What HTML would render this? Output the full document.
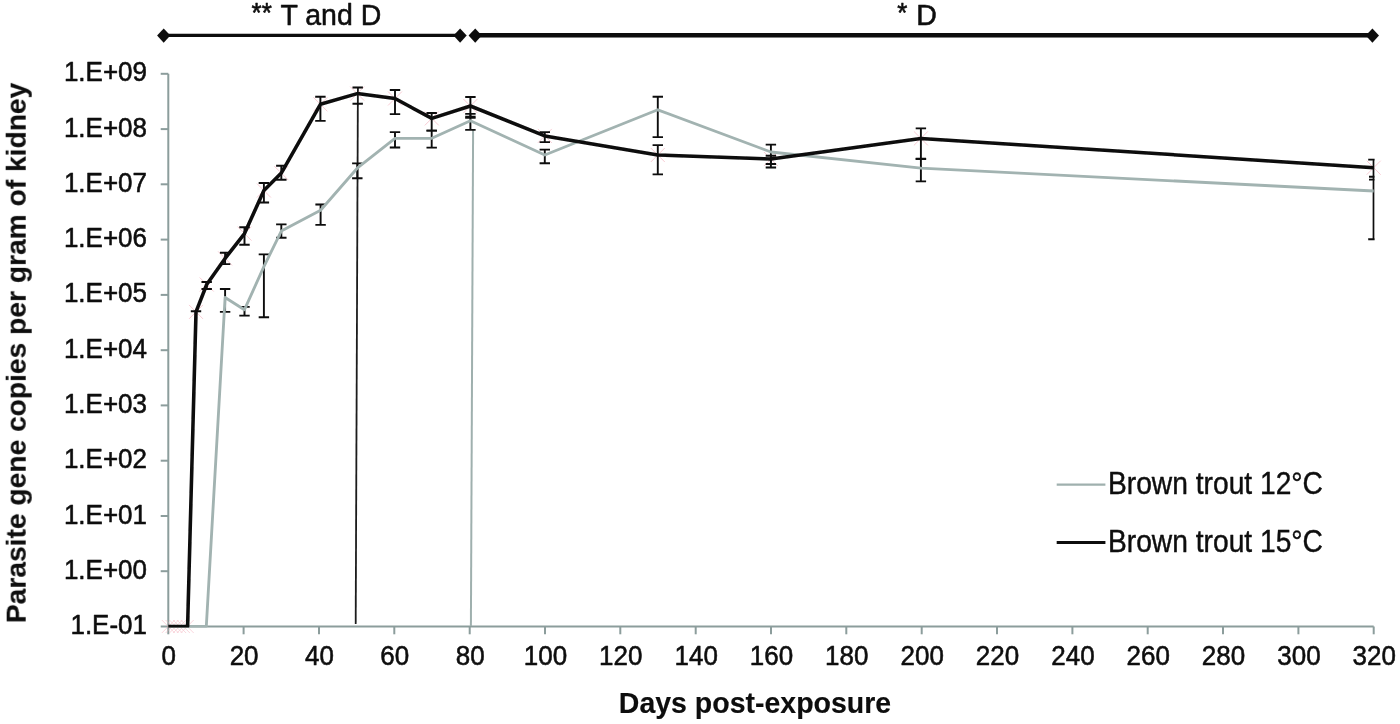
<!DOCTYPE html>
<html lang="en">
<head>
<meta charset="utf-8">
<title>Parasite gene copies per gram of kidney</title>
<style>
html,body{margin:0;padding:0;background:#fff;}
body{width:1400px;height:724px;overflow:hidden;font-family:"Liberation Sans",sans-serif;}
svg{display:block;}
</style>
</head>
<body>
<svg width="1400" height="724" viewBox="0 0 1400 724" role="img" aria-label="Parasite gene copies per gram of kidney versus days post-exposure">
<defs><filter id="bl" x="0" y="0" width="1400" height="724" filterUnits="userSpaceOnUse"><feGaussianBlur stdDeviation="0.55"/></filter><filter id="b2" x="0" y="0" width="1400" height="724" filterUnits="userSpaceOnUse"><feGaussianBlur stdDeviation="0.6"/></filter><clipPath id="cp"><rect x="150" y="60" width="1224.6" height="567.4"/></clipPath></defs>
<rect width="1400" height="724" fill="#ffffff"/>
<g filter="url(#bl)">
<g stroke="#8c9d9c" stroke-width="2.0" fill="none">
<path d="M168.3 73.8 V626.5 H1373.7"/>
<path d="M160.7 73.8 H168.3"/>
<path d="M160.7 129.1 H168.3"/>
<path d="M160.7 184.3 H168.3"/>
<path d="M160.7 239.6 H168.3"/>
<path d="M160.7 294.9 H168.3"/>
<path d="M160.7 350.2 H168.3"/>
<path d="M160.7 405.4 H168.3"/>
<path d="M160.7 460.7 H168.3"/>
<path d="M160.7 516.0 H168.3"/>
<path d="M160.7 571.2 H168.3"/>
<path d="M160.7 626.5 H168.3"/>
<path d="M168.3 626.5 V634.3"/>
<path d="M243.6 626.5 V634.3"/>
<path d="M319.0 626.5 V634.3"/>
<path d="M394.3 626.5 V634.3"/>
<path d="M469.7 626.5 V634.3"/>
<path d="M545.0 626.5 V634.3"/>
<path d="M620.3 626.5 V634.3"/>
<path d="M695.7 626.5 V634.3"/>
<path d="M771.0 626.5 V634.3"/>
<path d="M846.3 626.5 V634.3"/>
<path d="M921.7 626.5 V634.3"/>
<path d="M997.0 626.5 V634.3"/>
<path d="M1072.4 626.5 V634.3"/>
<path d="M1147.7 626.5 V634.3"/>
<path d="M1223.0 626.5 V634.3"/>
<path d="M1298.4 626.5 V634.3"/>
<path d="M1373.7 626.5 V634.3"/>
</g>
<path d="M357.9 88 L355.7 624" stroke="#1c1c1c" stroke-width="1.8" fill="none"/>
<path d="M473.1 129 L470.9 626" stroke="#9fb0ae" stroke-width="2" fill="none"/>
<g stroke="#f3a9b6" stroke-width="1.0" opacity="0.6">
<path d="M189.0 304.9 l14 14 M203.0 304.9 l-14 14"/>
<path d="M199.7 277.5 l14 14 M213.7 277.5 l-14 14"/>
<path d="M218.1 251.4 l14 14 M232.1 251.4 l-14 14"/>
<path d="M237.5 226.6 l14 14 M251.5 226.6 l-14 14"/>
<path d="M256.9 183.5 l14 14 M270.9 183.5 l-14 14"/>
<path d="M274.3 166.1 l14 14 M288.3 166.1 l-14 14"/>
<path d="M313.4 97.3 l14 14 M327.4 97.3 l-14 14"/>
<path d="M350.2 86.6 l14 14 M364.2 86.6 l-14 14"/>
<path d="M388.0 91.5 l14 14 M402.0 91.5 l-14 14"/>
<path d="M424.8 111.4 l14 14 M438.8 111.4 l-14 14"/>
<path d="M463.4 99.0 l14 14 M477.4 99.0 l-14 14"/>
<path d="M537.8 128.9 l14 14 M551.8 128.9 l-14 14"/>
<path d="M650.8 148.0 l14 14 M664.8 148.0 l-14 14"/>
<path d="M763.9 152.0 l14 14 M777.9 152.0 l-14 14"/>
<path d="M913.9 131.4 l14 14 M927.9 131.4 l-14 14"/>
<path d="M1366.7 160.7 l14 14 M1380.7 160.7 l-14 14"/>
</g>
<g stroke="#f3a9b6" stroke-width="0.8" opacity="0.6">
<path d="M161.8 620.0 l13 13 M174.8 620.0 l-13 13"/>
<path d="M165.6 620.0 l13 13 M178.6 620.0 l-13 13"/>
<path d="M169.4 620.0 l13 13 M182.4 620.0 l-13 13"/>
<path d="M173.1 620.0 l13 13 M186.1 620.0 l-13 13"/>
<path d="M176.9 620.0 l13 13 M189.9 620.0 l-13 13"/>
<path d="M180.7 620.0 l13 13 M193.7 620.0 l-13 13"/>
</g>
<g clip-path="url(#cp)">
<g stroke="#0b0b0b" stroke-width="1.9" fill="none">
<path d="M196.0 311.1 V311.4 M190.8 311.1 h10.4 M190.8 311.4 h10.4"/>
<path d="M206.7 282.0 V289.0 M201.5 282.0 h10.4 M201.5 289.0 h10.4"/>
<path d="M225.1 252.7 V264.1 M219.9 252.7 h10.4 M219.9 264.1 h10.4"/>
<path d="M244.5 227.3 V244.8 M239.3 227.3 h10.4 M239.3 244.8 h10.4"/>
<path d="M263.9 183.0 V202.5 M258.7 183.0 h10.4 M258.7 202.5 h10.4"/>
<path d="M281.3 165.7 V179.8 M276.1 165.7 h10.4 M276.1 179.8 h10.4"/>
<path d="M320.4 96.8 V120.9 M315.2 96.8 h10.4 M315.2 120.9 h10.4"/>
<path d="M395.0 90.0 V114.1 M389.8 90.0 h10.4 M389.8 114.1 h10.4"/>
<path d="M431.7 113.0 V130.6 M426.5 113.0 h10.4 M426.5 130.6 h10.4"/>
<path d="M470.4 97.0 V117.9 M465.2 97.0 h10.4 M465.2 117.9 h10.4"/>
<path d="M544.8 132.1 V142.1 M539.6 132.1 h10.4 M539.6 142.1 h10.4"/>
<path d="M657.8 145.1 V174.4 M652.6 145.1 h10.4 M652.6 174.4 h10.4"/>
<path d="M770.9 155.8 V167.5 M765.7 155.8 h10.4 M765.7 167.5 h10.4"/>
<path d="M920.9 128.4 V158.8 M915.7 128.4 h10.4 M915.7 158.8 h10.4"/>
<path d="M225.1 289.0 V311.9 M219.9 289.0 h10.4 M219.9 311.9 h10.4"/>
<path d="M244.5 306.9 V315.6 M239.3 306.9 h10.4 M239.3 315.6 h10.4"/>
<path d="M263.9 254.4 V317.2 M258.7 254.4 h10.4 M258.7 317.2 h10.4"/>
<path d="M281.3 224.4 V237.8 M276.1 224.4 h10.4 M276.1 237.8 h10.4"/>
<path d="M320.6 204.5 V224.9 M315.4 204.5 h10.4 M315.4 224.9 h10.4"/>
<path d="M357.3 163.4 V178.2 M352.1 163.4 h10.4 M352.1 178.2 h10.4"/>
<path d="M395.0 132.1 V147.5 M389.8 132.1 h10.4 M389.8 147.5 h10.4"/>
<path d="M431.7 130.6 V147.6 M426.5 130.6 h10.4 M426.5 147.6 h10.4"/>
<path d="M470.4 113.9 V129.9 M465.2 113.9 h10.4 M465.2 129.9 h10.4"/>
<path d="M544.8 149.6 V163.2 M539.6 149.6 h10.4 M539.6 163.2 h10.4"/>
<path d="M657.8 96.8 V137.1 M652.6 96.8 h10.4 M652.6 137.1 h10.4"/>
<path d="M770.9 144.6 V164.0 M765.7 144.6 h10.4 M765.7 164.0 h10.4"/>
<path d="M920.9 159.0 V181.4 M915.7 159.0 h10.4 M915.7 181.4 h10.4"/>
<path d="M352.5 87.5 h10.4 M352.5 103.7 h10.4 M465.2 116.6 h10.4"/>
<path d="M1373.6 159.6 V239.2 M1368.2 159.6 h11 M1368.2 239.2 h11 M1369 176.7 h10 M1369 179.6 h10"/>
</g>
<path d="M168.3 626.5 L206.3 626.5 L225.1 297.5 L244.4 309.8 L263.9 266.6 L281.3 231.1 L320.6 210.2 L357.2 168.2 L395.0 138.3 L431.8 138.3 L470.4 120.8 L544.8 155.0 L657.8 109.8 L770.9 152.0 L920.9 168.2 L1373.7 191.0" stroke="#a2b3b1" stroke-width="2.85" fill="none" stroke-linejoin="round" filter="url(#b2)"/>
<path d="M168.3 626.5 L187.6 626.5 L196.0 311.9 L206.7 284.5 L225.1 258.4 L244.5 233.6 L263.9 190.5 L281.3 173.1 L320.4 104.3 L357.2 93.6 L395.0 98.5 L431.8 118.4 L470.4 106.0 L544.8 135.9 L657.8 155.0 L770.9 159.0 L920.9 138.4 L1373.7 167.7" stroke="#0b0b0b" stroke-width="3.55" fill="none" stroke-linejoin="round"/>
</g>
<path d="M163.7 35.4 H460.1" stroke="#0b0b0b" stroke-width="3.3" fill="none"/>
<path d="M475.2 35.3 H1372.4" stroke="#0b0b0b" stroke-width="4.4" fill="none"/>
<path d="M157.1 35.6 L163.7 28.5 L170.3 35.6 L163.7 42.7 Z" fill="#0b0b0b"/>
<path d="M453.5 35.6 L460.1 28.5 L466.7 35.6 L460.1 42.7 Z" fill="#0b0b0b"/>
<path d="M468.6 35.6 L475.2 28.5 L481.8 35.6 L475.2 42.7 Z" fill="#0b0b0b"/>
<path d="M1365.8 35.6 L1372.4 28.5 L1379.0 35.6 L1372.4 42.7 Z" fill="#0b0b0b"/>
<path d="M1056.7 484.6 H1105.4" stroke="#9fb0ae" stroke-width="2.1" fill="none"/>
<path d="M1056.7 542.5 H1105.4" stroke="#0b0b0b" stroke-width="3.2" fill="none"/>
<g font-family="'Liberation Sans', sans-serif" fill="#0a0a0a" stroke="#0a0a0a" stroke-width="0.5" stroke-linejoin="round">
<text transform="translate(147.0 81.3) scale(1 1.065)" font-size="26" text-anchor="end">1.E+09</text>
<text transform="translate(147.0 136.6) scale(1 1.065)" font-size="26" text-anchor="end">1.E+08</text>
<text transform="translate(147.0 191.8) scale(1 1.065)" font-size="26" text-anchor="end">1.E+07</text>
<text transform="translate(147.0 247.1) scale(1 1.065)" font-size="26" text-anchor="end">1.E+06</text>
<text transform="translate(147.0 302.4) scale(1 1.065)" font-size="26" text-anchor="end">1.E+05</text>
<text transform="translate(147.0 357.7) scale(1 1.065)" font-size="26" text-anchor="end">1.E+04</text>
<text transform="translate(147.0 412.9) scale(1 1.065)" font-size="26" text-anchor="end">1.E+03</text>
<text transform="translate(147.0 468.2) scale(1 1.065)" font-size="26" text-anchor="end">1.E+02</text>
<text transform="translate(147.0 523.5) scale(1 1.065)" font-size="26" text-anchor="end">1.E+01</text>
<text transform="translate(147.0 578.7) scale(1 1.065)" font-size="26" text-anchor="end">1.E+00</text>
<text transform="translate(147.0 634.0) scale(1 1.065)" font-size="26" text-anchor="end">1.E-01</text>
<text transform="translate(168.8 665.2) scale(1 1.065)" font-size="26" text-anchor="middle">0</text>
<text transform="translate(244.1 665.2) scale(1 1.065)" font-size="26" text-anchor="middle">20</text>
<text transform="translate(319.5 665.2) scale(1 1.065)" font-size="26" text-anchor="middle">40</text>
<text transform="translate(394.8 665.2) scale(1 1.065)" font-size="26" text-anchor="middle">60</text>
<text transform="translate(470.2 665.2) scale(1 1.065)" font-size="26" text-anchor="middle">80</text>
<text transform="translate(545.5 665.2) scale(1 1.065)" font-size="26" text-anchor="middle">100</text>
<text transform="translate(620.8 665.2) scale(1 1.065)" font-size="26" text-anchor="middle">120</text>
<text transform="translate(696.2 665.2) scale(1 1.065)" font-size="26" text-anchor="middle">140</text>
<text transform="translate(771.5 665.2) scale(1 1.065)" font-size="26" text-anchor="middle">160</text>
<text transform="translate(846.8 665.2) scale(1 1.065)" font-size="26" text-anchor="middle">180</text>
<text transform="translate(922.2 665.2) scale(1 1.065)" font-size="26" text-anchor="middle">200</text>
<text transform="translate(997.5 665.2) scale(1 1.065)" font-size="26" text-anchor="middle">220</text>
<text transform="translate(1072.9 665.2) scale(1 1.065)" font-size="26" text-anchor="middle">240</text>
<text transform="translate(1148.2 665.2) scale(1 1.065)" font-size="26" text-anchor="middle">260</text>
<text transform="translate(1223.5 665.2) scale(1 1.065)" font-size="26" text-anchor="middle">280</text>
<text transform="translate(1298.9 665.2) scale(1 1.065)" font-size="26" text-anchor="middle">300</text>
<text transform="translate(1374.2 665.2) scale(1 1.065)" font-size="26" text-anchor="middle">320</text>
<text transform="translate(251.6 22.4) scale(1 1.065)" font-size="26" text-anchor="start">**</text>
<text transform="translate(381.3 24.7) scale(1 1.065)" font-size="28.5" text-anchor="end">T and D</text>
<text transform="translate(897.2 22.4) scale(1 1.065)" font-size="26" text-anchor="start">*</text>
<text transform="translate(936.9 24.7) scale(1 1.065)" font-size="28.5" text-anchor="end">D</text>
<text transform="translate(1108.0 493.7) scale(1 1.090)" font-size="28.2" text-anchor="start" stroke-width="0.35">Brown trout 12°C</text>
<text transform="translate(1108.0 551.6) scale(1 1.090)" font-size="28.2" text-anchor="start" stroke-width="0.35">Brown trout 15°C</text>
<text transform="translate(755.0 712.6) scale(1 1.030)" font-size="28.5" text-anchor="middle" font-weight="bold" stroke-width="0.1">Days post-exposure</text>
<text transform="translate(25.7 352.9) rotate(-90)" font-size="28.2" font-weight="bold" stroke-width="0.1" text-anchor="middle">Parasite gene copies per gram of kidney</text>
</g>
</g>
</svg>
</body>
</html>
